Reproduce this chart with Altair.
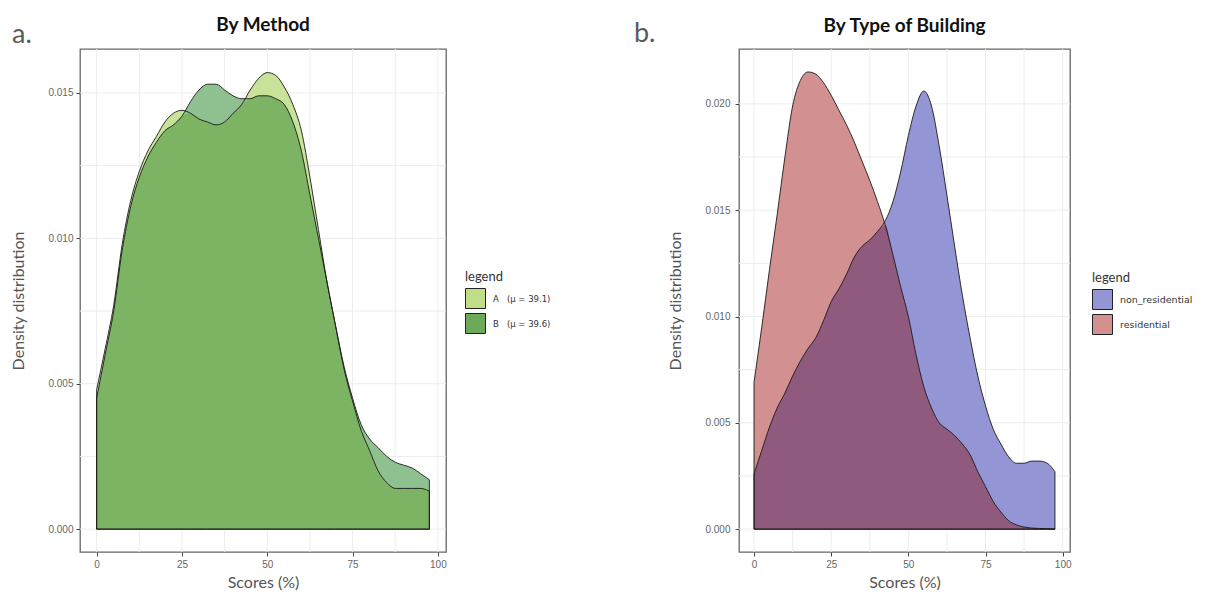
import altair as alt
import pandas as pd

# ---------------- data ----------------
x_vals = [0, 2.5, 5, 7.5, 10, 12.5, 15, 17.5, 20, 22.5, 25, 27.5, 30, 32.5, 35, 37.5,
          40, 42.5, 45, 47.5, 50, 52.5, 55, 57.5, 60, 62.5, 65, 67.5, 70, 72.5, 75,
          77.5, 80, 82.5, 85, 87.5, 90, 92.5, 95, 97.5]

method_a = [0.0048, 0.0062, 0.0077, 0.0098, 0.0113, 0.0123, 0.0130, 0.0135, 0.0140, 0.0143,
            0.0144, 0.0143, 0.0141, 0.0140, 0.0139, 0.0140, 0.0143, 0.0146, 0.0151, 0.0155,
            0.0157, 0.0156, 0.0152, 0.0146, 0.0137, 0.0121, 0.0103, 0.0085, 0.0070, 0.0055,
            0.0044, 0.0034, 0.0027, 0.0020, 0.0016, 0.0014, 0.0014, 0.0014, 0.0014, 0.0013]
method_b = [0.0045, 0.0060, 0.0075, 0.0096, 0.0111, 0.0121, 0.0128, 0.0133, 0.0137, 0.0139,
            0.0142, 0.0147, 0.0151, 0.0153, 0.0153, 0.0151, 0.0149, 0.0148, 0.0148, 0.0149,
            0.0149, 0.0148, 0.0146, 0.0140, 0.0130, 0.0115, 0.0100, 0.0085, 0.0070, 0.0056,
            0.0045, 0.0036, 0.0031, 0.0028, 0.0025, 0.0023, 0.0022, 0.0021, 0.0019, 0.0017]

non_residential = [0.0026, 0.0037, 0.0048, 0.0057, 0.0064, 0.0072, 0.0079, 0.0085, 0.0090, 0.0098,
                   0.0107, 0.0113, 0.0120, 0.0128, 0.0133, 0.0136, 0.0140, 0.0145, 0.0154, 0.0168,
                   0.0185, 0.0199, 0.0206, 0.0199, 0.0180, 0.0157, 0.0133, 0.0110, 0.0090, 0.0072,
                   0.0058, 0.0047, 0.0040, 0.0034, 0.0031, 0.0031, 0.0032, 0.0032, 0.0031, 0.0027]
residential = [0.0069, 0.0095, 0.0122, 0.0148, 0.0175, 0.0199, 0.0211, 0.0215, 0.0214, 0.0210,
               0.0204, 0.0197, 0.0190, 0.0182, 0.0173, 0.0164, 0.0154, 0.0143, 0.0129, 0.0114,
               0.0100, 0.0082, 0.0067, 0.0057, 0.0050, 0.0047, 0.0044, 0.0040, 0.0035, 0.0027,
               0.0020, 0.0013, 0.0008, 0.0004, 0.0002, 0.0001, 0.00005, 0.00003, 0.00002, 0.00001]

method_labels = ["A\u00a0\u00a0\u00a0(\u03bc = 39.1)", "B\u00a0\u00a0\u00a0(\u03bc = 39.6)"]
building_labels = ["non_residential", "residential"]

x_ticks = [0, 25, 50, 75, 100]
x_minor = [12.5, 37.5, 62.5, 87.5]
y_ticks_a = [0.0, 0.005, 0.010, 0.015]
y_minor_a = [0.0025, 0.0075, 0.0125]
y_ticks_b = [0.0, 0.005, 0.010, 0.015, 0.020]
y_minor_b = [0.0025, 0.0075, 0.0125, 0.0175]

GRID = "#ececec"
TEXT = "#555555"


def panel(s1, s2, labels, fill1, fill2, fill_both, swatch, y_dom, y_ticks, y_minor,
          title, letter, letter_x, letter_y, width, height, legend_x, legend_y,
          label_pad, label_size, title_y):
    wide = pd.DataFrame({"x": x_vals, "s1": s1, "s2": s2})
    xs = alt.Scale(domain=[-4.875, 102.375], nice=False, zero=False)
    ys = alt.Scale(domain=y_dom, nice=False, zero=False)
    xaxis = alt.Axis(values=x_ticks, title="Scores (%)", grid=False, domain=False,
                     tickColor="#444", tickSize=4, labelFont="Liberation Sans",
                     labelFontSize=10, labelColor="#666", labelPadding=3,
                     titleFont="Lato", titleFontSize=16, titleFontWeight="normal",
                     titleColor=TEXT, titlePadding=5)
    yaxis = alt.Axis(values=y_ticks, format=".3f", title="Density distribution", grid=False,
                     domain=False, tickColor="#444", tickSize=4, labelFont="Liberation Sans",
                     labelFontSize=10, labelColor="#666", labelPadding=label_pad,
                     titleFont="Lato", titleFontSize=16, titleFontWeight="normal",
                     titleColor=TEXT, titlePadding=21)

    X = alt.X("x:Q", scale=xs, axis=xaxis)

    gx = alt.Chart(pd.DataFrame({"x": x_ticks + x_minor})).mark_rule(
        color=GRID, strokeWidth=1).encode(x=X)
    gy = alt.Chart(pd.DataFrame({"y": y_ticks + y_minor})).mark_rule(
        color=GRID, strokeWidth=1).encode(y=alt.Y("y:Q", scale=ys, axis=yaxis))

    base = alt.Chart(wide)
    a1 = base.mark_area(color=fill1, opacity=1, interpolate="monotone").encode(
        x=X, y=alt.Y("s1:Q", scale=ys, axis=yaxis))
    a2 = base.mark_area(color=fill2, opacity=1, interpolate="monotone").encode(
        x=X, y=alt.Y("s2:Q", scale=ys, axis=yaxis))
    a3 = base.transform_calculate(m="min(datum.s1, datum.s2)").mark_area(
        color=fill_both, opacity=1, interpolate="monotone").encode(
        x=X, y=alt.Y("m:Q", scale=ys, axis=yaxis))
    o1 = base.mark_area(fillOpacity=0, stroke="#1a1a1a", strokeWidth=0.9,
                        interpolate="monotone").encode(
        x=X, y=alt.Y("s1:Q", scale=ys, axis=yaxis))
    o2 = base.mark_area(fillOpacity=0, stroke="#1a1a1a", strokeWidth=0.9,
                        interpolate="monotone").encode(
        x=X, y=alt.Y("s2:Q", scale=ys, axis=yaxis))

    leg = alt.Chart(pd.DataFrame({"series": labels})).transform_filter("false").mark_point(
        shape="square", filled=True, opacity=1).encode(
        color=alt.Color("series:N", scale=alt.Scale(domain=labels, range=swatch),
                        legend=alt.Legend(title="legend", orient="none",
                                          legendX=legend_x, legendY=legend_y,
                                          symbolType="square", symbolSize=400,
                                          symbolStrokeColor="#222", symbolStrokeWidth=1,
                                          symbolOpacity=1, rowPadding=0,
                                          labelFont="DejaVu Sans", labelFontSize=label_size,
                                          labelColor="#333", labelOffset=7,
                                          titleFont="Lato", titleFontSize=13,
                                          titleFontWeight="normal", titleColor="#333",
                                          titlePadding=4)))

    letter_layer = alt.Chart(pd.DataFrame({"t": [letter]})).mark_text(
        align="left", baseline="alphabetic", font="Lato", fontSize=27,
        color="#5a5a5a").encode(text="t:N", x=alt.value(letter_x), y=alt.value(letter_y))

    title_layer = alt.Chart(pd.DataFrame({"t": [title]})).mark_text(
        align="center", baseline="alphabetic", font="Lato", fontSize=19, fontWeight="bold",
        color="#111").encode(text="t:N", x=alt.value(width / 2), y=alt.value(title_y))

    return alt.layer(gx, gy, a1, a2, a3, o1, o2, leg, letter_layer, title_layer).properties(
        width=width, height=height)


left = panel(method_a, method_b, method_labels, "#c8e29a", "#8fc08f", "#7cb464",
             ["#c0dd88", "#6aaa5a"], [-0.000786, 0.01651], y_ticks_a, y_minor_a,
             "By Method", "a.", -68, -6, 366, 503, 385, 222, 3, 8.5, -18)
right = panel(non_residential, residential, building_labels, "#9395d5", "#d29090", "#8f5a7e",
              ["#9395d5", "#d29090"], [-0.001075, 0.02258], y_ticks_b, y_minor_b,
              "By Type of Building", "b.", -105, -7, 331, 503, 353, 223, 5, 9.5, -17)

chart = alt.hconcat(left, right, spacing=293, bounds="flush").resolve_scale(
    color="independent").resolve_legend(color="independent").configure_view(
    stroke="#666", strokeWidth=1.3).properties(padding={"left": 2, "top": 7, "right": 5, "bottom": 5})

chart.save("out.html", embed_options={"renderer": "svg", "actions": False})
